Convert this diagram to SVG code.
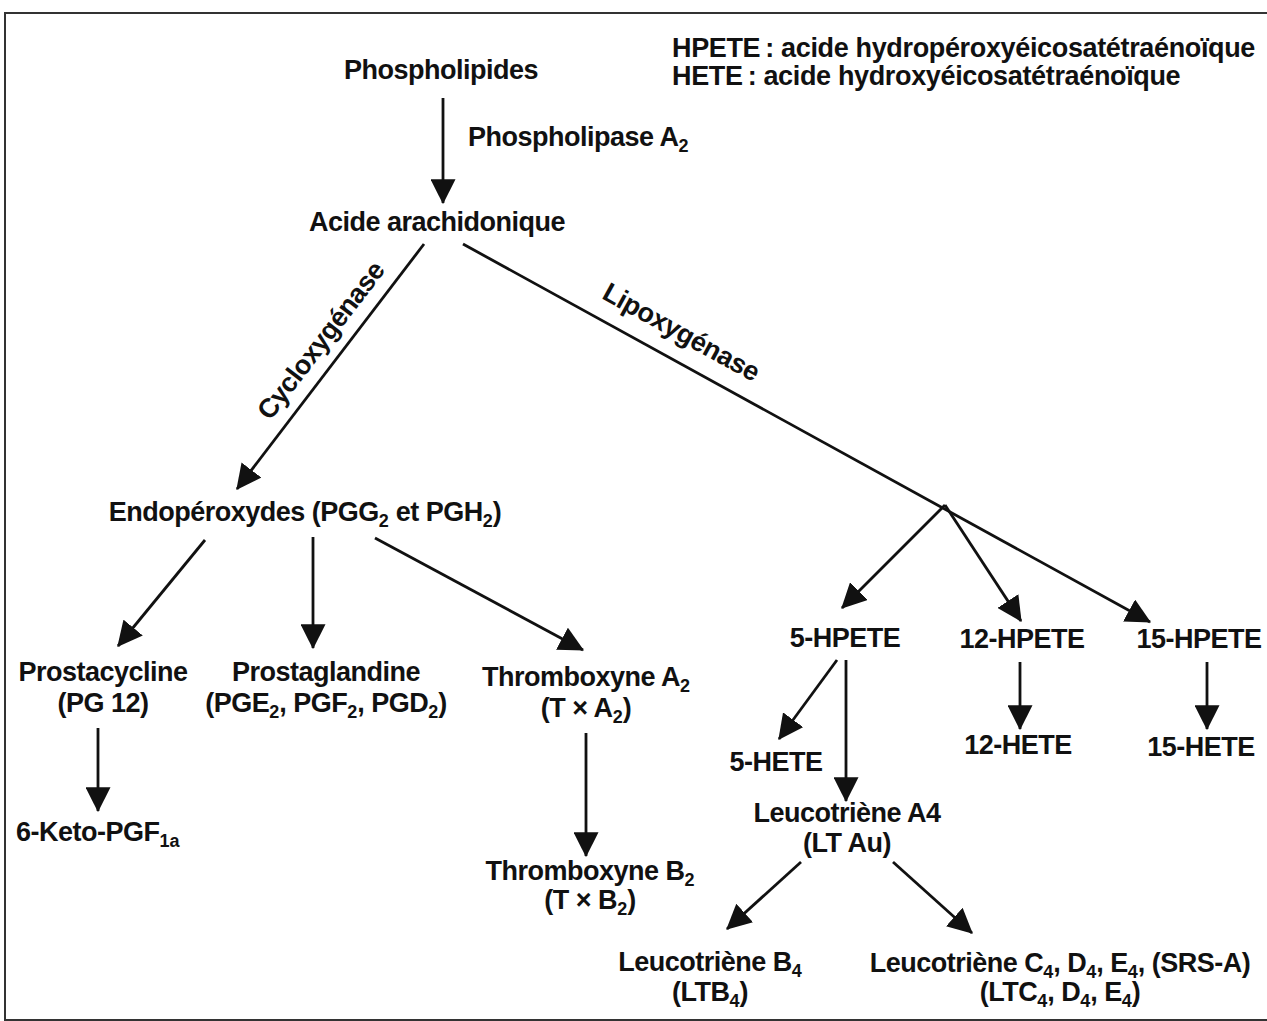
<svg xmlns="http://www.w3.org/2000/svg" width="1267" height="1021" viewBox="0 0 1267 1021">
<defs>
<marker id="ah" markerUnits="userSpaceOnUse" markerWidth="25" markerHeight="25" viewBox="0 0 22 22" refX="21" refY="11" orient="auto">
<path d="M0,0 L22,11 L0,22 z" fill="#111"/>
</marker>
<style>
text{font-family:"Liberation Sans",Arial,sans-serif;font-weight:bold;font-size:27px;letter-spacing:-0.5px;fill:#111}
.c{text-anchor:middle}
.s{font-size:18px;letter-spacing:0}
.lg{letter-spacing:-0.35px}
.ln{stroke:#111;stroke-width:2.8;fill:none}
.ar{stroke:#111;stroke-width:2.8;fill:none;marker-end:url(#ah)}
</style>
</defs>
<rect x="0" y="0" width="1267" height="1021" fill="#fff"/>
<rect x="5" y="13" width="1280" height="1007" fill="none" stroke="#333" stroke-width="2"/>

<g id="legend">
<text class="lg" x="672" y="57">HPETE&#8201;: acide hydropéroxyéicosatétraénoïque</text>
<text class="lg" x="672" y="85">HETE&#8201;: acide hydroxyéicosatétraénoïque</text>
</g>

<g id="connectors">
<line class="ar" x1="443" y1="98" x2="443" y2="203"/>
<line class="ar" x1="424" y1="244" x2="237" y2="489"/>
<line class="ar" x1="463" y1="244" x2="1150" y2="622"/>
<line class="ar" x1="945" y1="505" x2="842" y2="608"/>
<line class="ar" x1="945" y1="505" x2="1021" y2="621"/>
<line class="ar" x1="205" y1="540" x2="118" y2="646"/>
<line class="ar" x1="313" y1="537" x2="313" y2="648"/>
<line class="ar" x1="375" y1="538" x2="583" y2="650"/>
<line class="ar" x1="98" y1="728" x2="98" y2="811"/>
<line class="ar" x1="586" y1="733" x2="586" y2="856"/>
<line class="ar" x1="1020" y1="662" x2="1020" y2="729"/>
<line class="ar" x1="1207" y1="662" x2="1207" y2="729"/>
<line class="ar" x1="837" y1="660" x2="779" y2="739"/>
<line class="ar" x1="846" y1="660" x2="846" y2="801"/>
<line class="ar" x1="801" y1="862" x2="727" y2="929"/>
<line class="ar" x1="893" y1="862" x2="972" y2="933"/>
<text class="c" transform="translate(328,346) rotate(-52.5)">Cycloxygénase</text>
<text class="c" transform="translate(677,340) rotate(28.8)">Lipoxygénase</text>
<text x="468" y="146">Phospholipase A<tspan class="s" dy="6">2</tspan></text>
</g>

<g id="n-phospholipides"><text class="c" x="441" y="79">Phospholipides</text></g>
<g id="n-arachidonique"><text class="c" x="437" y="231">Acide arachidonique</text></g>
<g id="n-endoperoxydes"><text class="c" x="305" y="521">Endopéroxydes (PGG<tspan class="s" dy="6">2</tspan><tspan dy="-6"> et PGH</tspan><tspan class="s" dy="6">2</tspan><tspan dy="-6">)</tspan></text></g>
<g id="n-prostacycline">
<text class="c" x="103" y="681">Prostacycline</text>
<text class="c" x="103" y="712">(PG 12)</text>
</g>
<g id="n-prostaglandine">
<text class="c" x="326" y="681">Prostaglandine</text>
<text class="c" x="326" y="712">(PGE<tspan class="s" dy="6">2</tspan><tspan dy="-6">, PGF</tspan><tspan class="s" dy="6">2</tspan><tspan dy="-6">, PGD</tspan><tspan class="s" dy="6">2</tspan><tspan dy="-6">)</tspan></text>
</g>
<g id="n-thromboxyneA2">
<text class="c" x="586" y="686">Thromboxyne A<tspan class="s" dy="6">2</tspan></text>
<text class="c" x="586" y="717">(T × A<tspan class="s" dy="6">2</tspan><tspan dy="-6">)</tspan></text>
</g>
<g id="n-keto"><text x="16" y="841">6-Keto-PGF<tspan class="s" dy="6">1a</tspan></text></g>
<g id="n-thromboxyneB2">
<text class="c" x="590" y="880">Thromboxyne B<tspan class="s" dy="6">2</tspan></text>
<text class="c" x="590" y="909">(T × B<tspan class="s" dy="6">2</tspan><tspan dy="-6">)</tspan></text>
</g>
<g id="n-5hpete"><text class="c" x="845" y="647">5-HPETE</text></g>
<g id="n-12hpete"><text class="c" x="1022" y="648">12-HPETE</text></g>
<g id="n-15hpete"><text class="c" x="1199" y="648">15-HPETE</text></g>
<g id="n-12hete"><text class="c" x="1018" y="754">12-HETE</text></g>
<g id="n-15hete"><text class="c" x="1201" y="756">15-HETE</text></g>
<g id="n-5hete"><text class="c" x="776" y="771">5-HETE</text></g>
<g id="n-lta4">
<text class="c" x="847" y="822">Leucotriène A4</text>
<text class="c" x="847" y="852">(LT Au)</text>
</g>
<g id="n-ltb4">
<text class="c" x="710" y="971">Leucotriène B<tspan class="s" dy="6">4</tspan></text>
<text class="c" x="710" y="1001">(LTB<tspan class="s" dy="6">4</tspan><tspan dy="-6">)</tspan></text>
</g>
<g id="n-ltc4">
<text class="c" x="1060" y="972">Leucotriène C<tspan class="s" dy="6">4</tspan><tspan dy="-6">, D</tspan><tspan class="s" dy="6">4</tspan><tspan dy="-6">, E</tspan><tspan class="s" dy="6">4</tspan><tspan dy="-6">, (SRS-A)</tspan></text>
<text class="c" x="1060" y="1001">(LTC<tspan class="s" dy="6">4</tspan><tspan dy="-6">, D</tspan><tspan class="s" dy="6">4</tspan><tspan dy="-6">, E</tspan><tspan class="s" dy="6">4</tspan><tspan dy="-6">)</tspan></text>
</g>
</svg>
